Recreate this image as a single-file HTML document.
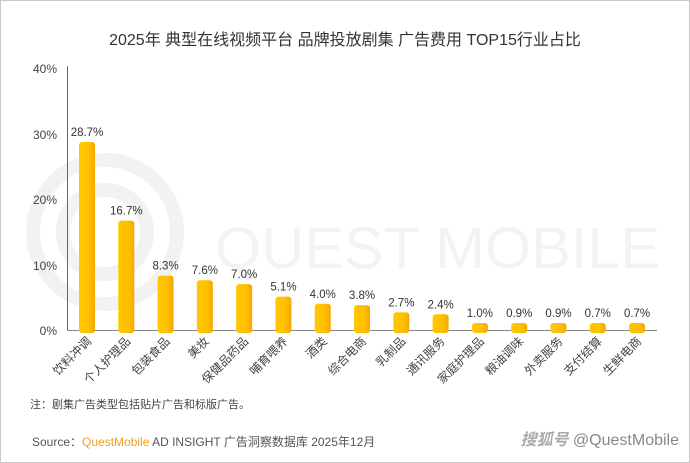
<!DOCTYPE html>
<html><head><meta charset="utf-8"><style>
html,body{margin:0;padding:0;background:#fff;}
body{width:690px;height:463px;overflow:hidden;}
svg{display:block;font-family:"Liberation Sans","Noto Sans CJK SC",sans-serif;}
</style></head><body>
<svg width="690" height="463" viewBox="0 0 690 463" xmlns="http://www.w3.org/2000/svg">
<defs>
<linearGradient id="g" x1="0" y1="0" x2="1" y2="0">
<stop offset="0" stop-color="#ffc800"/><stop offset="0.6" stop-color="#ffc000"/><stop offset="1" stop-color="#f5a800"/>
</linearGradient>
</defs>
<rect x="0.5" y="0.5" width="689" height="462" fill="#fff" stroke="#c8c8c8"/>
<g fill="none" stroke="#f2f2f2" stroke-width="14">
<circle cx="105" cy="232" r="72"/><circle cx="105" cy="232" r="42"/>
</g>
<text x="215" y="268" font-size="58" fill="#f3f3f3" textLength="445" lengthAdjust="spacingAndGlyphs">QUEST MOBILE</text>
<text x="345" y="45" text-anchor="middle" font-size="16" fill="#333">2025年 典型在线视频平台 品牌投放剧集 广告费用  TOP15行业占比</text>
<g font-size="12" fill="#444" text-anchor="end">
<text x="57" y="73">40%</text><text x="57" y="139">30%</text><text x="57" y="204">20%</text><text x="57" y="270">10%</text><text x="57" y="335">0%</text>
</g>
<line x1="67.5" y1="66" x2="67.5" y2="331" stroke="#666"/>
<line x1="67" y1="330.5" x2="657" y2="330.5" stroke="#888"/>
<g id="bars"></g>
<text x="30" y="408" font-size="11" fill="#444">注：剧集广告类型包括贴片广告和标版广告。</text>
<text x="32" y="446" font-size="12" fill="#555">Source：<tspan fill="#f0a020">QuestMobile</tspan> AD INSIGHT 广告洞察数据库 2025年12月</text>
<text x="679" y="445" text-anchor="end" font-size="16" fill="#888"><tspan font-style="italic" font-weight="bold" fill="#aaa">搜狐号</tspan> @QuestMobile</text>
</svg>
<script>
var d=[["饮料冲调",28.7],["个人护理品",16.7],["包装食品",8.3],["美妆",7.6],["保健品药品",7.0],["哺育喂养",5.1],["酒类",4.0],["综合电商",3.8],["乳制品",2.7],["通讯服务",2.4],["家庭护理品",1.0],["粮油调味",0.9],["外卖服务",0.9],["支付结算",0.7],["生鲜电商",0.7]];
var g=document.getElementById("bars"),s="";
d.forEach(function(r,i){
var cx=87+i*39.29,h=Math.max(r[1]*6.55,7),y=330-h;
s+='<rect x="'+(cx-8)+'" y="'+y+'" width="16" height="'+(h+3)+'" rx="3" fill="url(#g)"/>';
s+='<text x="'+cx+'" y="'+(y-6)+'" text-anchor="middle" font-size="11.5" fill="#333">'+r[1].toFixed(1)+'%</text>';
s+='<text transform="translate('+(cx+5)+',342) rotate(-45)" text-anchor="end" font-size="12" fill="#444">'+r[0]+'</text>';
});
g.innerHTML=s;
</script>
</body></html>
